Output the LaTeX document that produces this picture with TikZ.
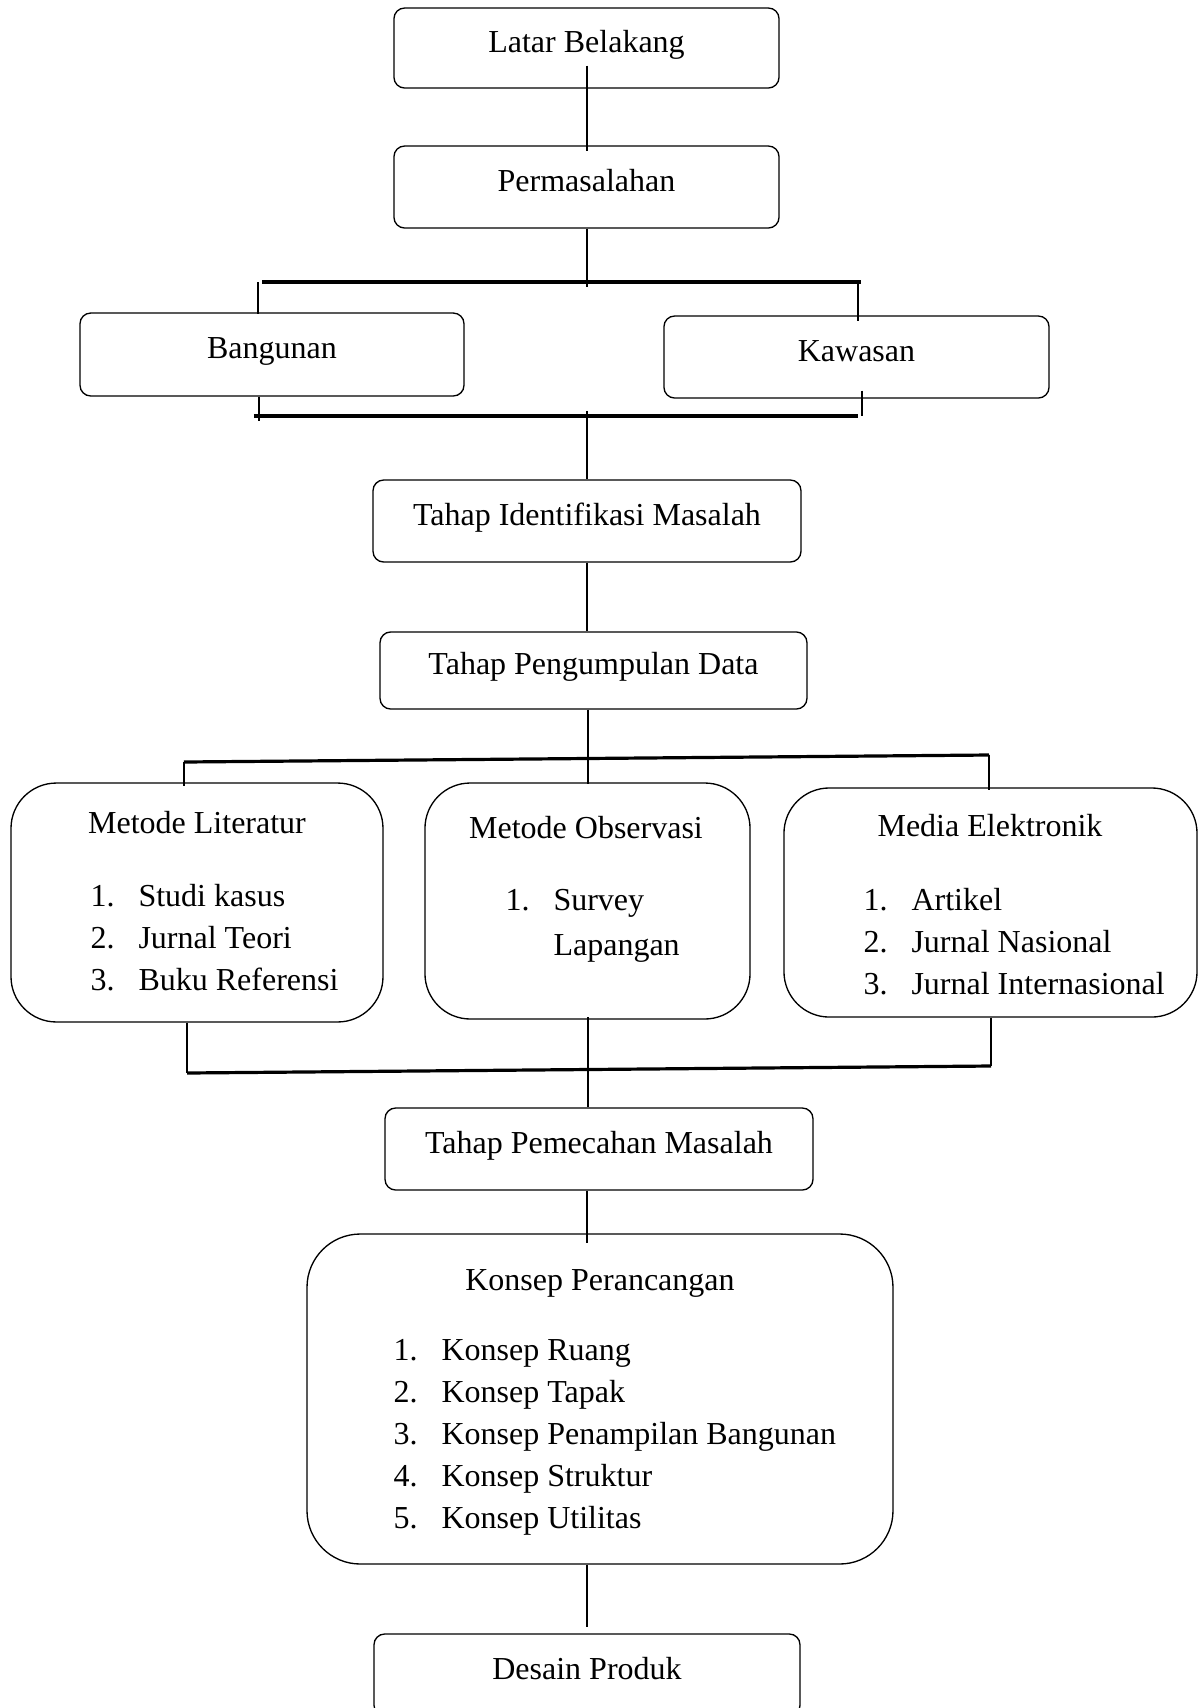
\documentclass[tikz,border=0pt]{standalone}
\usepackage{fontspec}
\setmainfont{Liberation Serif}
\usepackage{tikz}

\newcommand{\numitem}[2]{\makebox[18pt][l]{#1.}#2}

\begin{document}
\begin{tikzpicture}[x=0.375pt,y=-0.375pt,
    font=\fontsize{12}{15.75}\selectfont,
    box/.style={draw, line width=0.5pt, rounded corners=4pt, text height=8.5pt, text depth=5.5pt},
    bigbox/.style={draw, line width=0.5pt, rounded corners=17pt},
    conn/.style={line width=0.75pt},
    bar/.style={line width=1.2pt},
    lbl/.style={inner sep=0pt, text height=8.5pt, text depth=2pt},
    lst/.style={inner sep=0pt, align=left, anchor=north west}]
  \useasboundingbox (0,0) rectangle (1199,1708);

  % Draw the top boxes
  \node[box, minimum width=144.4pt, minimum height=30pt] (latar) at (586.5,48) {Latar Belakang};
  \node[box, minimum width=144.4pt, minimum height=30.75pt] (perm) at (586.5,187) {Permasalahan};
  \node[box, minimum width=144pt, minimum height=31.1pt] (bang) at (272,354.5) {Bangunan};
  \node[box, minimum width=144.4pt, minimum height=30.75pt] (kaw) at (856.5,357) {Kawasan};
  \node[box, minimum width=160.5pt, minimum height=30.75pt] (ident) at (587,521) {Tahap Identifikasi Masalah};
  \node[box, minimum width=160.1pt, minimum height=28.9pt] (kumpul) at (593.5,670.5) {Tahap Pengumpulan Data};

  % Draw the three method boxes
  \node[bigbox, minimum width=139.5pt, minimum height=89.6pt] (lit) at (197,902.5) {};
  \node[lbl] (litT) at (197,825) {Metode Literatur};
  \node[lst] (litL) at (90,884) {\numitem{1}{Studi kasus}\\ \numitem{2}{Jurnal Teori}\\ \numitem{3}{Buku Referensi}};

  \node[bigbox, minimum width=121.9pt, minimum height=88.5pt] (obs) at (587.5,901) {};
  \node[lbl] (obsT) at (586,830) {Metode Observasi};
  \node[lst] (obsL) at (505,889) {\numitem{1}{Survey}\\[1.1pt] \hspace*{18pt}Lapangan};

  \node[bigbox, minimum width=154.9pt, minimum height=85.9pt] (media) at (990.5,902.5) {};
  \node[lbl] (mediaT) at (990,828) {Media Elektronik};
  \node[lst] (mediaL) at (863,888) {\numitem{1}{Artikel}\\ \numitem{2}{Jurnal Nasional}\\ \numitem{3}{Jurnal Internasional}};

  % Draw the bottom boxes
  \node[box, minimum width=160.5pt, minimum height=30.75pt] (pecah) at (599,1149) {Tahap Pemecahan Masalah};
  \node[bigbox, rounded corners=20pt, minimum width=219.75pt, minimum height=123.75pt] (konsep) at (600,1399) {};
  \node[lbl] (konsepT) at (600,1282) {Konsep Perancangan};
  \node[lst] (konsepL) at (393,1339) {\numitem{1}{Konsep Ruang}\\ \numitem{2}{Konsep Tapak}\\ \numitem{3}{Konsep Penampilan Bangunan}\\ \numitem{4}{Konsep Struktur}\\ \numitem{5}{Konsep Utilitas}};
  \node[box, minimum width=159.75pt, minimum height=30.75pt] (desain) at (587,1675) {Desain Produk};

  % Draw the connectors
  \coordinate (b1l) at (258,282);
  \coordinate (b1r) at (858,282);
  \coordinate (b2l) at (259,416);
  \coordinate (b2r) at (862,416);
  \coordinate (b3l) at (184,762);
  \coordinate (b3r) at (989,755);
  \coordinate (b4l) at (187,1073);
  \coordinate (b4r) at (991,1066);

  \draw[conn] ([yshift=8.6pt]latar.south) -- ([yshift=-2.3pt]perm.north);
  \draw[conn] (perm.south) -- ([yshift=-1.9pt]perm.south |- b1l);
  \draw[bar] ([xshift=1.5pt]b1l) -- ([xshift=1.1pt]b1r);
  \draw[conn] (b1l) -- ([yshift=-0.75pt]b1l |- bang.north);
  \draw[conn] (b1r) -- ([yshift=-2.2pt]b1r |- kaw.north);

  \draw[conn] (b2l |- bang.south) -- ([yshift=-1.9pt]b2l);
  \draw[conn] ([yshift=3pt]b2r |- kaw.south) -- (b2r);
  \draw[bar] ([xshift=-1.9pt]b2l) -- ([xshift=-1.5pt]b2r);
  \draw[conn] ([yshift=1.9pt]b2l -| ident) -- (ident.north);

  \draw[conn] (ident.south) -- (ident.south |- kumpul.north);

  \draw[conn] (kumpul.south -| obs) -- ([yshift=-0.75pt]obs.north);
  \draw[bar] (b3l) -- (b3r);
  \draw[conn] (b3l) -- ([yshift=-1.5pt]b3l |- lit.north);
  \draw[conn] (b3r) -- ([yshift=-1.1pt]b3r |- media.north);

  \draw[conn] (b4l |- lit.south) -- (b4l);
  \draw[conn] (b4r |- media.south) -- (b4r);
  \draw[bar] (b4l) -- (b4r);
  \draw[conn] ([yshift=1pt]obs.south) -- (obs.south |- pecah.north);

  \draw[conn] (pecah.south -| latar) -- ([yshift=-3.75pt]konsep.north -| latar);
  \draw[conn] (konsep.south -| desain) -- ([yshift=2.25pt]desain.north);
\end{tikzpicture}
\end{document}
